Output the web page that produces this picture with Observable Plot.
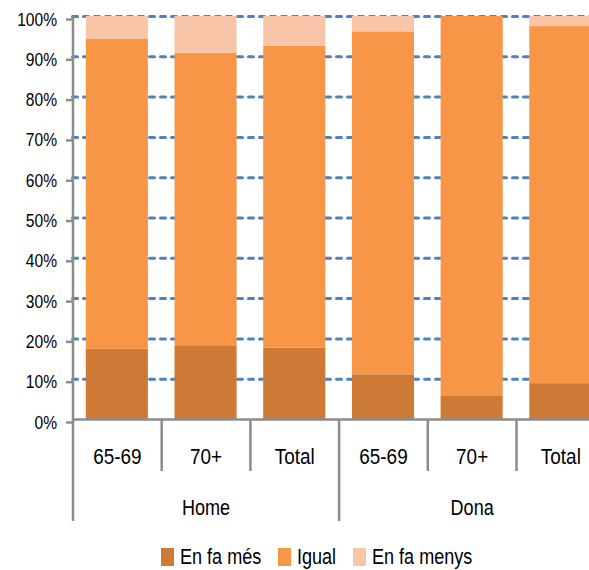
<!DOCTYPE html>
<html><head><meta charset="utf-8">
<script src="https://cdn.jsdelivr.net/npm/d3@7"></script>
<script src="https://cdn.jsdelivr.net/npm/@observablehq/plot@0.6"></script>
<style>
html,body{margin:0;padding:0;background:#fff;overflow:hidden;}
#chart{position:relative;width:589px;height:570px;font-family:"Liberation Sans",Arial,sans-serif;color:#000;}
#chart svg{display:block;overflow:hidden;}
#legend{position:absolute;left:0;top:0;width:589px;height:570px;pointer-events:none;font-size:22px;line-height:22px;white-space:pre;}
#legend .sw{position:absolute;top:548.3px;width:12.5px;height:17.7px;}
#legend .lb{position:absolute;top:545.5px;transform:scaleX(0.82);transform-origin:0 50%;}
</style></head><body><div id="chart"></div>
<script>
const groups = ["Home", "Dona"];
const categories = ["65-69", "70+", "Total", "65-69", "70+", "Total"];
const series = ["En fa més", "Igual", "En fa menys"];
const enFaMes   = [17.4, 18.3, 17.7, 11.1, 5.7, 8.9];
const igual     = [76.9, 72.6, 74.9, 85.1, 94.3, 88.6];
const enFaMenys = [5.7, 9.1, 7.4, 3.8, 0.0, 2.5];
const yTicks = [0, 10, 20, 30, 40, 50, 60, 70, 80, 90, 100];
const colors = ["#CD7A37", "#F79646", "#F9C5A8"];

const seriesValues = [enFaMes, igual, enFaMenys];
const data = [];
categories.forEach((c, i) => {
  series.forEach((s, k) => data.push({i, category: c, series: s, value: seriesValues[k][i]}));
});
const n = categories.length;
const perGroup = n / groups.length;
const dividers = d3.range(n + 1);

const axisColor = "#8c8c8c";
const H = 543;
const plot = Plot.plot({
  width: 589,
  height: H,
  marginTop: 16,
  marginBottom: 124,
  marginLeft: 72.5,
  marginRight: -15.7,
  x: {domain: [0, n], range: [72.5, 604.7], axis: null},
  y: {domain: [0, 100], range: [419, 16], axis: null},
  color: {domain: series, range: colors},
  style: {fontFamily: '"Liberation Sans",Arial,sans-serif', fontSize: "19px", color: "#000", background: "#fff"},
  marks: [
    Plot.ruleY(yTicks.filter(t => t > 0), {x1: 0, x2: n, stroke: "#4F81BD", strokeWidth: 3, strokeDasharray: "5,6", strokeLinecap: "round"}),
    Plot.rectY(data, Plot.stackY({x: "i", interval: 1, y: "value", fill: "series", order: series, insetLeft: 13.3, insetRight: 13.3})),
    Plot.ruleX([0], {y1: 0, y2: 100, stroke: axisColor, strokeWidth: 2.5}),
    Plot.axisY(yTicks, {anchor: "left", label: null, tickSize: 6.5, tickPadding: 9.5, tickFormat: d => d + "%", stroke: axisColor, strokeWidth: 2.5, fill: "#000", fontSize: 19, dy: 3}),
    Plot.ruleY([0], {x1: 0, x2: n, stroke: axisColor, strokeWidth: 2.5}),
    Plot.ruleX(dividers, {x: d => d, y1: 0, y2: d => (d % perGroup === 0 ? -25.3 : -12.9), stroke: axisColor, strokeWidth: 2.5}),
    Plot.text(categories, {x: (d, i) => i + 0.5, y: 0, dy: 37, text: d => d, fontSize: 22, fill: "#000"}),
    Plot.text(groups, {x: (d, i) => i * perGroup + perGroup / 2, y: 0, dy: 88, text: d => d, fontSize: 22, fill: "#000"})
  ]
});
const chart = document.getElementById("chart");
chart.appendChild(plot);
// condense texts horizontally (narrow face look), keeping their anchors
plot.querySelectorAll("text").forEach(t => {
  const len = t.getComputedTextLength();
  const factor = categories.includes(t.textContent) ? 0.86 : 0.82;
  if (len > 0) {
    t.setAttribute("textLength", (len * factor).toFixed(2));
    t.setAttribute("lengthAdjust", "spacingAndGlyphs");
  }
});

const legend = document.createElement("div");
legend.id = "legend";
const swatchLeft = [161, 278, 353];
series.forEach((s, k) => {
  const sw = document.createElement("span");
  sw.className = "sw";
  sw.style.left = swatchLeft[k] + "px";
  sw.style.background = colors[k];
  const label = document.createElement("span");
  label.className = "lb";
  label.style.left = (swatchLeft[k] + 18.5) + "px";
  label.textContent = s;
  legend.appendChild(sw);
  legend.appendChild(label);
});
chart.appendChild(legend);
</script>
</body></html>
